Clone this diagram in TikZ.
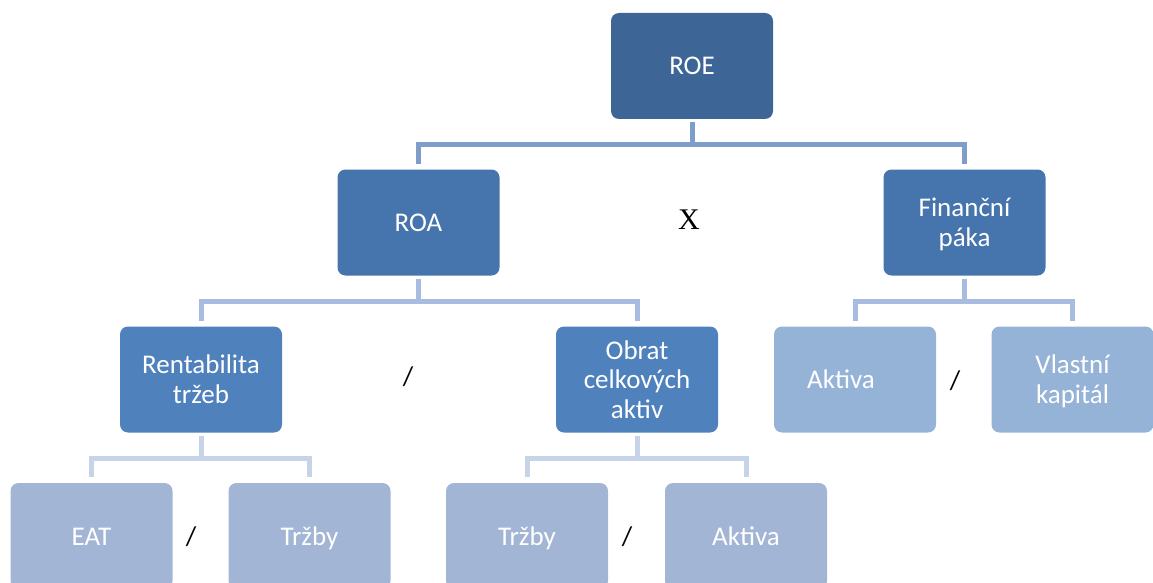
\documentclass[tikz,border=0pt]{standalone}
\usepackage{fontspec}
\setmainfont{Carlito}
\newfontfamily\opserif{Liberation Serif}
\newcommand\topstrut{\rule{0pt}{27pt}}
\newcommand\botstrut{\rule[-9pt]{0pt}{9pt}}
\definecolor{lvlone}{HTML}{3D6696}
\definecolor{lvltwo}{HTML}{4674AC}
\definecolor{lvlthree}{HTML}{4F81BD}
\definecolor{lvlthreelt}{HTML}{95B3D7}
\definecolor{lvlfour}{HTML}{A2B5D5}
\definecolor{linkone}{HTML}{7F9DCB}
\definecolor{linktwo}{HTML}{A7BCDF}
\definecolor{linkthree}{HTML}{C6D3E8}
\begin{document}
\begin{tikzpicture}[x=1pt,y=-1pt,inner sep=0pt,outer sep=0pt,
box/.style={rectangle,rounded corners=8pt,minimum width=162pt,minimum height=106pt,text=white,align=center,font=\fontsize{27}{29.5}\selectfont},
link/.style={line width=5pt,shorten <=3pt,shorten >=6pt},
op/.style={font=\fontsize{27}{30}\selectfont}]
\useasboundingbox (0,0) rectangle (1153,583);
\draw (692,66) node[box,fill=lvlone] (roe) {\topstrut ROE\botstrut};
\draw (418.5,222.5) node[box,fill=lvltwo] (roa) {\topstrut ROA\botstrut};
\draw (964.5,222.5) node[box,fill=lvltwo] (paka) {\topstrut Finanční\\páka\botstrut};
\draw (201,379.5) node[box,fill=lvlthree] (rent) {\topstrut Rentabilita\\tržeb\botstrut};
\draw (637,379.5) node[box,fill=lvlthree] (obrat) {\topstrut Obrat\\celkových\\aktiv\botstrut};
\draw (855,379.5) node[box,fill=lvlthreelt] (aktivaA) {\topstrut Aktiva\hspace*{28pt}\botstrut};
\draw (1072.5,379.5) node[box,fill=lvlthreelt] (kapital) {\topstrut Vlastní\\kapitál\botstrut};
\draw (91.5,536) node[box,fill=lvlfour] (eat) {\topstrut EAT\botstrut};
\draw (309.5,536) node[box,fill=lvlfour] (trzbyA) {\topstrut Tržby\botstrut};
\draw (527,536) node[box,fill=lvlfour] (trzbyB) {\topstrut Tržby\botstrut};
\draw (746,536) node[box,fill=lvlfour] (aktivaB) {\topstrut Aktiva\botstrut};
% operators
\draw (689,220) node[font=\opserif\fontsize{30}{34}\selectfont] (times) {X};
\draw (408,377) node[op] (divA) {/};
\draw (955,381) node[op] (divB) {/};
\draw (191,537) node[op] (divC) {/};
\draw (627,537) node[op] (divD) {/};
% connectors
\draw[link,linkone] (roe.south) -- ++(0,25) -| (roa.north);
\draw[link,linkone] (roe.south) -- ++(0,25) -| (paka.north);
\draw[link,linktwo] (roa.south) -- ++(0,25.5) -| (rent.north);
\draw[link,linktwo] (roa.south) -- ++(0,25.5) -| (obrat.north);
\draw[link,linktwo] (paka.south) -- ++(0,25.5) -| (aktivaA.north);
\draw[link,linktwo] (paka.south) -- ++(0,25.5) -| (kapital.north);
\draw[link,linkthree] (rent.south) -- ++(0,25.5) -| (eat.north);
\draw[link,linkthree] (rent.south) -- ++(0,25.5) -| (trzbyA.north);
\draw[link,linkthree] (obrat.south) -- ++(0,25.5) -| (trzbyB.north);
\draw[link,linkthree] (obrat.south) -- ++(0,25.5) -| (aktivaB.north);
\end{tikzpicture}
\end{document}
